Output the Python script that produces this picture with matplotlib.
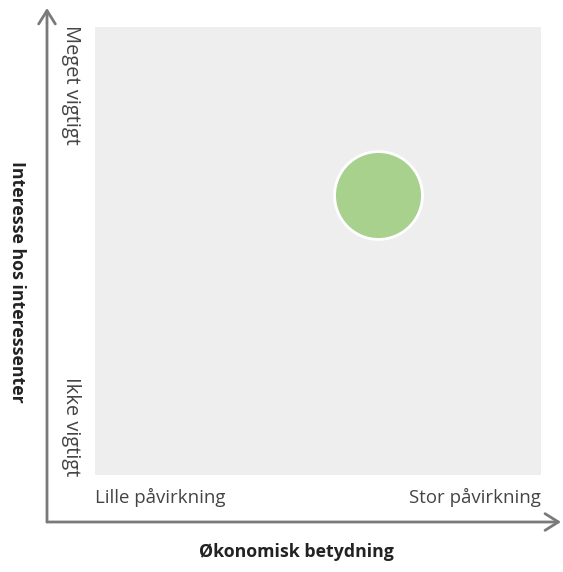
import matplotlib
matplotlib.use("Agg")
import matplotlib.pyplot as plt

# data
x_vals = [0.635]
y_vals = [0.625]
x_labels = ["Lille påvirkning", "Stor påvirkning"]
y_labels = ["Ikke vigtigt", "Meget vigtigt"]
x_title = "Økonomisk betydning"
y_title = "Interesse hos interessenter"

plt.rcParams['font.family'] = ['Open Sans', 'DejaVu Sans']

W, H = 563, 572
fig = plt.figure(figsize=(W / 100, H / 100), dpi=100)
ax = fig.add_axes([95 / W, 1 - 475 / H, (541 - 95) / W, (475 - 27) / H])
ax.set_facecolor("#eeeeee")
for s in ax.spines.values():
    s.set_visible(False)
ax.set_xticks([])
ax.set_yticks([])
ax.set_xlim(0, 1)
ax.set_ylim(0, 1)

ax.scatter(x_vals, y_vals, s=4000, color="#a9d18e", edgecolor="white",
           linewidth=2, zorder=3)

# axis arrows
def fx(px):
    return px / W

def fy(py):
    return 1 - py / H

arrow = dict(arrowstyle="->,head_length=0.8,head_width=0.5", color="#7a7a7a", lw=2,
             shrinkA=0, shrinkB=0)
fig.add_artist(matplotlib.patches.FancyArrowPatch((fx(47), fy(522)), (fx(47), fy(8)),
               transform=fig.transFigure, mutation_scale=12, **arrow))
fig.add_artist(matplotlib.patches.FancyArrowPatch((fx(47), fy(522)), (fx(561), fy(522)),
               transform=fig.transFigure, mutation_scale=12, **arrow))

txt = "#444444"
fig.text(fx(95), fy(497), x_labels[0], ha="left", va="center", fontsize=13.4, color=txt)
fig.text(fx(541), fy(497), x_labels[1], ha="right", va="center", fontsize=13.4, color=txt)
fig.text(fx(71), fy(25), y_labels[1], ha="center", va="top", rotation=-90,
         fontsize=14.4, color=txt)
fig.text(fx(71), fy(476), y_labels[0], ha="center", va="bottom", rotation=-90,
         fontsize=14.4, color=txt)
fig.text(fx(296), fy(552), x_title, ha="center", va="center", fontsize=12.8,
         fontweight="bold", color="#222222")
fig.text(fx(17), fy(282), y_title, ha="center", va="center", rotation=-90,
         fontsize=12.8, fontweight="bold", color="#222222")

fig.savefig("out.png", dpi=100)
